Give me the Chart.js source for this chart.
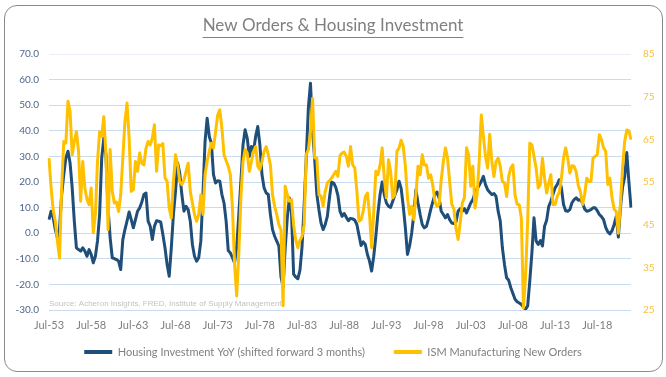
<!DOCTYPE html>
<html><head><meta charset="utf-8">
<script src="https://cdn.jsdelivr.net/npm/chart.js@4.4.1/dist/chart.umd.min.js"></script>
<style>
html,body{margin:0;padding:0;background:#fff;}
#wrap{position:relative;width:666px;height:377px;overflow:hidden;}
#frame{position:absolute;left:4px;top:5px;width:657px;height:365px;border:1px solid #8a8a8a;border-radius:13px;pointer-events:none;}
canvas{position:absolute;left:0;top:0;}
</style></head><body>
<div id="wrap"><canvas id="c" width="666" height="377"></canvas><div id="frame"></div></div>
<script>
// Quarterly categories from Jul-53 to Jul-22
const quarterMonths = ['Jan','Apr','Jul','Oct'];
const categories = [];
for (let i = 0; i < 277; i++) {
  const k = 2 + i;
  const yr = (1953 + Math.floor(k / 4)) % 100;
  categories.push(quarterMonths[k % 4] + '-' + String(yr).padStart(2, '0'));
}
const tickLabels = ['Jul-53','Jul-58','Jul-63','Jul-68','Jul-73','Jul-78','Jul-83','Jul-88','Jul-93','Jul-98','Jul-03','Jul-08','Jul-13','Jul-18'];

const housingYoY = [
5.3, 8.6, 6, 1.4, -1.8,
2, 15, 22.9, 29.4, 32,
27.4, 17.7, 4.7, -5.7, -6.4,
-7, -5.7, -7, -9, -6.4,
-8.3, -11.6, -9, -3, 7.3,
29.4, 37.1, 30.6, 9.9, -1.8,
-9.6, -9.9, -10.3, -10.9, -14.2,
-2.5, 1.4, 4.7, 8.3, 5.3,
2.1, 5.3, 8.6, 9.9, 12.1,
15.1, 15.7, 4.7, 2.7, -2.5,
2.7, 4.9, 4.7, 4.3, -0.5,
-5.7, -12.2, -16.8, -5.7, 7.3,
16.4, 27.4, 23.5, 15.1, 8.6,
10.5, 9.2, 4.7, -4.4, -9,
-10.9, -9.6, -3.1, 15.1, 35.8,
44.9, 37.8, 35.2, 22.9, 19.6,
20.5, 20.3, 15.1, 11.8, 4.7,
-6.8, -7.7, -9.6, -11.6, -5.7,
7.3, 20.3, 34.5, 40.4, 37.1,
30, 33.9, 32, 37.8, 41.7,
34.5, 22.9, 17.7, 15.7, 15.1,
7.3, 1.4, -1.2, -3.1, -5,
-17, -21, -6, 6, 13.8,
8, -16, -17.1, -17.8, -14.5,
-5.3, 11.2, 29.4, 49, 58.6,
40, 28.7, 15.3, 9.2, 4,
1.4, 3.4, 6.6, 13.8, 20,
19.6, 17.9, 14.8, 8.6, 6.6,
7.7, 6.2, 4.9, 5.8, 5.6,
5.1, 3.4, -0.8, -4.8, -3.4,
-4.4, -8.3, -10.9, -14.8, -9,
-1.2, 7.9, 15.1, 20, 15.1,
11.8, 10.5, 10.1, 12.5, 14.8,
17, 20.3, 17.5, 10.5, 2.1,
-8.3, -5, 0.1, 7.3, 17,
11.8, 7.3, 3.4, 2.1, 2.7,
5.7, 9.2, 12.2, 15.1, 16.1,
13.8, 8.6, 7.3, 6, 7.3,
5.3, 4, 3.8, 4.4, 8.6,
9.6, 8.6, 9.6, 7.9, 9.9,
11.8, 13.1, 15.7, 17.4, 18.7,
20.3, 22.2, 19, 17, 16,
15.1, 15.5, 14.4, 8.6, 4.7,
-5.7, -12.2, -17.4, -18.4, -21.3,
-23.6, -25.8, -26.8, -27.3, -27.8,
-28.8, -29.7, -28.4, -18.7, -7.7,
6, -3, -4.4, -2.9, -5,
2.7, 5.1, 10.5, 12.5, 15.1,
17.7, 19, 20.9, 17.7, 11.2,
8.8, 8.6, 9.2, 11.9, 13.1,
13.8, 12.9, 13.1, 11.8, 9.5,
8.6, 8.8, 9.2, 9.9, 9.9,
8.8, 7.3, 6.5, 5.3, 2.3,
0.5, -0.3, 1, 3.4, 6.6,
-1.5, 10, 18, 22, 31.5,
20, 10
];

const ismNewOrders = [
60.6, 53.6, 48.3, 45.8, 41.1,
37.2, 53.6, 64.5, 64.1, 73.9,
71.5, 61.4, 64.5, 66.8, 62.2,
50.5, 59.8, 53.6, 50.9, 49.7,
53.6, 43.1, 47.4, 59.8, 66.8,
65.7, 70.3, 61.4, 43.8, 62.6,
52.8, 50.1, 50.3, 48.1, 52,
60.6, 69.2, 73.5, 65.3, 52.8,
53.2, 59.8, 57.5, 61.8, 59.4,
59, 62.9, 64.5, 63.7, 65.3,
68.4, 57.5, 63.7, 63.5, 64,
56, 55.1, 48.9, 46.6, 55.1,
61.4, 59, 55.1, 54.4, 55.5,
57.5, 59.4, 52.8, 50.1, 47.4,
45.8, 47.4, 52, 47.4, 56.7,
59.8, 62.2, 64.1, 63, 66.8,
70.7, 71.9, 67.6, 61.4, 60,
58.7, 56.7, 48.9, 35.7, 28.3,
38, 51.3, 59.8, 62.6, 61.8,
57.5, 59.8, 62.2, 63.3, 58.7,
57.9, 59.8, 62.2, 63.3, 61.4,
59, 52, 49.3, 47.4, 45,
43.8, 26, 54, 52, 50.5,
50.9, 45, 41.5, 39.6, 41.3,
42.3, 45, 61.4, 62.6, 66.8,
74.6, 60.6, 60.6, 52, 51.7,
49.3, 52.8, 54.8, 55.3, 55.9,
56.7, 57.5, 56.3, 61.2, 61.8,
62, 61, 58.7, 63.3, 59,
58.3, 52.8, 45.8, 46.2, 48.1,
51.6, 52.4, 47.4, 39.6, 48.1,
57.5, 56.7, 59, 63, 55.9,
51.3, 60.2, 57.5, 51.3, 52,
62.2, 63, 64.8, 63.3, 58.7,
51.3, 47.4, 49.3, 46.2, 52,
58.7, 56.7, 61.4, 59, 59,
55.9, 56.7, 54.2, 50.5, 49.3,
49.7, 55.5, 59.8, 63, 60.6,
55.1, 49.8, 48.7, 44.2, 41.5,
45.4, 50.1, 51.3, 63, 61.4,
54, 58.7, 48.9, 52, 59.8,
70.7, 65.7, 61, 58.3, 66.2,
59.8, 56.3, 59.8, 60.6, 58.7,
55.1, 54.8, 51.6, 56.3, 58.3,
59, 52, 49.8, 49.7, 46.5,
25.5, 33, 45.8, 64.1, 63.7,
61, 58.3, 53.6, 54.4, 60.6,
55.9, 52.4, 54.8, 56.7, 49.7,
49.7, 51.6, 52.6, 55.9, 60.6,
63, 60.6, 57.1, 58.8, 58.7,
57.4, 54.2, 52.8, 49.7, 52,
55.9, 55.1, 55.1, 60.6, 61,
61.4, 66.1, 64.9, 63, 62.2,
54.4, 55.9, 51.3, 48.6, 48.1,
43, 50, 58.3, 64.5, 67.2,
67, 64.9
];

const titleText = 'New Orders & Housing Investment';
const sourceText = 'Source: Acheron Insights, FRED, Institute of Supply Management';
const seriesNames = ['Housing Investment YoY (shifted forward 3 months)', 'ISM Manufacturing New Orders'];

const underlinePlugin = {
  id: 'underline',
  afterDraw(chart) {
    const t = chart.titleBlock;
    if (!t) return;
    const ctx = chart.ctx;
    ctx.save();
    ctx.font = 'normal 17px Lato';
    const w = ctx.measureText(titleText).width;
    const cx = (t.left + t.right) / 2;
    const y = (t.top + t.bottom) / 2 + 9.5;
    ctx.strokeStyle = '#808080';
    ctx.lineWidth = 1;
    ctx.beginPath();
    ctx.moveTo(cx - w / 2, Math.round(y) + 0.5);
    ctx.lineTo(cx + w / 2, Math.round(y) + 0.5);
    ctx.stroke();
    ctx.restore();
  }
};

const sourcePlugin = {
  id: 'sourceNote',
  beforeDatasetsDraw(chart) {
    const ctx = chart.ctx;
    const a = chart.chartArea;
    ctx.save();
    ctx.font = '8px "Liberation Sans", Arial, sans-serif';
    ctx.fillStyle = '#c3c3c3';
    ctx.textBaseline = 'middle';
    ctx.textAlign = 'left';
    ctx.fillText(sourceText, a.left, a.bottom - 6);
    ctx.restore();
  }
};

new Chart(document.getElementById('c'), {
  type: 'line',
  data: {
    labels: categories,
    datasets: [
      { label: seriesNames[0], data: housingYoY, yAxisID: 'y', borderColor: '#1f4e79', backgroundColor: '#1f4e79',
        borderWidth: 3, pointRadius: 0, tension: 0, borderJoinStyle: 'round', order: 1 },
      { label: seriesNames[1], data: ismNewOrders, yAxisID: 'y1', borderColor: '#ffc000', backgroundColor: '#ffc000',
        borderWidth: 3, pointRadius: 0, tension: 0, borderJoinStyle: 'round', order: 0 }
    ]
  },
  options: {
    responsive: false,
    animation: false,
    layout: { padding: { top: 0, bottom: 9.5, left: 0, right: 0 } },
    plugins: {
      tooltip: { enabled: false },
      title: { display: true, text: titleText, color: '#808080',
        font: { family: 'Lato', size: 17, weight: 'normal' }, padding: { top: 15, bottom: 18.6 } },
      legend: {
        position: 'bottom',
        labels: {
          color: '#808080', font: { family: 'Lato', size: 11 },
          boxWidth: 28, boxHeight: 4, padding: 12.5,
          sort: (a, b) => a.datasetIndex - b.datasetIndex,
          generateLabels: (chart) => Chart.defaults.plugins.legend.labels.generateLabels(chart).map(l => {
            l.lineWidth = 0;
            if (l.datasetIndex === 0) l.text = l.text + '\u2003\u2003';
            return l;
          })
        }
      }
    },
    scales: {
      x: {
        type: 'category', offset: false,
        grid: { display: false, drawTicks: false }, border: { display: false },
        ticks: { autoSkip: false, maxRotation: 0, minRotation: 0, padding: 9, color: '#7f7f7f',
          font: { family: 'Lato', size: 11 },
          callback: function(v, i) { const l = categories[i]; return tickLabels.includes(l) ? l : ''; } },
        afterFit(s) { s.height = 24; }
      },
      y: {
        position: 'left', min: -30, max: 70,
        ticks: { stepSize: 10, padding: 10, color: '#4f6688', font: { family: 'Lato', size: 10 },
          callback: v => v.toFixed(1) },
        grid: { drawTicks: false, lineWidth: 1,
          color: ctx => ctx.tick && ctx.tick.value === 70 ? '#eaeff6' : '#c9dcef' },
        border: { display: false },
        afterFit(s) { s.width = 49; }
      },
      y1: {
        position: 'right', min: 25, max: 85,
        ticks: { stepSize: 10, padding: 12, color: '#f5c242', font: { family: 'Lato', size: 10 } },
        grid: { display: false, drawTicks: false },
        border: { display: false },
        afterFit(s) { s.width = 35; }
      }
    }
  },
  plugins: [underlinePlugin, sourcePlugin]
});
</script>
</body></html>
